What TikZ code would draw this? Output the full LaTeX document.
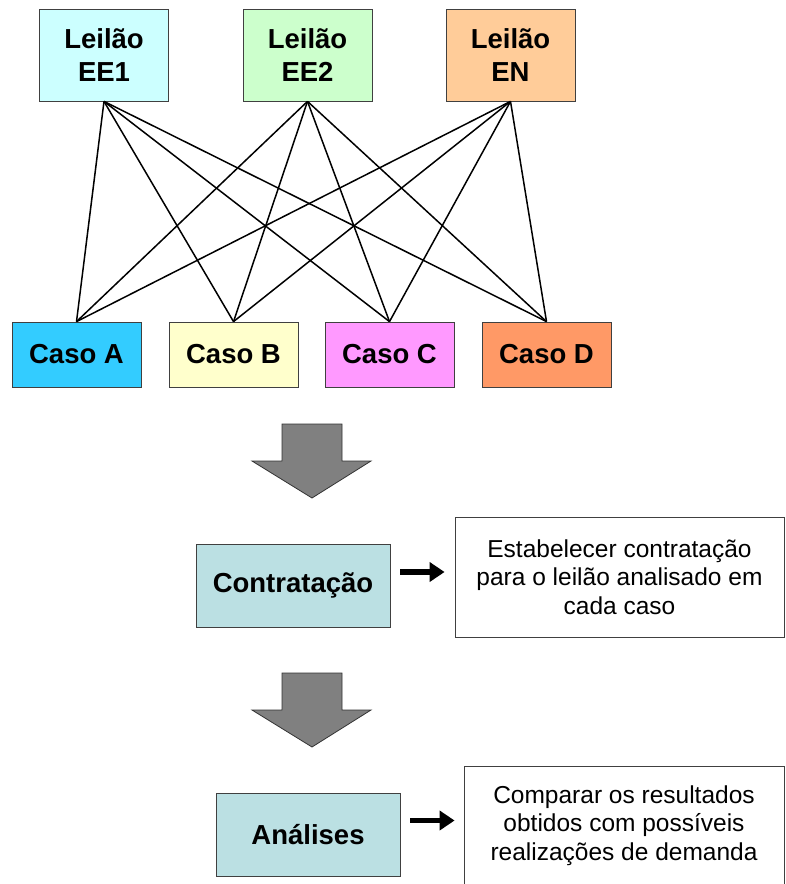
\documentclass[tikz,border=0pt]{standalone}
\usepackage{fontspec}
\setmainfont{Liberation Sans}
\usetikzlibrary{arrows.meta,calc}
\definecolor{cEEa}{HTML}{CCFFFF}
\definecolor{cEEb}{HTML}{CCFFCC}
\definecolor{cEN}{HTML}{FFCC99}
\definecolor{cA}{HTML}{33CCFF}
\definecolor{cB}{HTML}{FFFFCC}
\definecolor{cC}{HTML}{FF99FF}
\definecolor{cD}{HTML}{FF9966}
\definecolor{cStep}{HTML}{BBE0E3}
\definecolor{cGray}{HTML}{808080}
\tikzset{
  leilao/.style={draw=black!75, line width=0.8pt, minimum width=129pt, minimum height=92pt,
    inner sep=0pt, align=center, font=\fontsize{27.5}{33}\selectfont\bfseries},
  caso/.style={draw=black!75, line width=0.8pt, minimum width=129pt, minimum height=65pt,
    inner sep=0pt, align=center, font=\fontsize{27.5}{33}\selectfont\bfseries},
  stepbox/.style={draw=black!75, line width=0.8pt, fill=cStep, inner sep=0pt,
    align=center, font=\fontsize{27.5}{33}\selectfont\bfseries},
  notebox/.style={draw=black!75, line width=0.8pt, fill=white, inner sep=0pt,
    align=center, font=\fontsize{24.5}{28.5}\selectfont},
  link/.style={line width=1.5pt, black},
  fatarrow/.style={line width=5.5pt, -{Triangle[length=15pt,width=19pt]}},
  bigarrow/.style={fill=cGray, draw=black!80, line width=0.8pt},
}
\begin{document}
\begin{tikzpicture}[x=1pt,y=-1pt]
\useasboundingbox (0,0) rectangle (785,884);
% top boxes
\node[leilao, fill=cEEa] (ee1) at (104,55) {Leilão\\EE1};
\node[leilao, fill=cEEb] (ee2) at (307.5,55) {Leilão\\EE2};
\node[leilao, fill=cEN]  (en)  at (510.5,55) {Leilão\\EN};
% cases
\node[caso, fill=cA] (ca) at (76.5,354.5) {Caso A};
\node[caso, fill=cB] (cb) at (233.5,354.5) {Caso B};
\node[caso, fill=cC] (cc) at (389.5,354.5) {Caso C};
\node[caso, fill=cD] (cd) at (546.5,354.5) {Caso D};
% links
\foreach \t in {ee1,ee2,en}{
  \foreach \c in {ca,cb,cc,cd}{
    \draw[link] (\t.south) -- (\c.north);
  }
}
% big arrow 1
\coordinate (ba1) at (312,424);
\draw[bigarrow] ($(ba1)+(-30,0)$) -- ($(ba1)+(30,0)$) -- ($(ba1)+(30,37)$) -- ($(ba1)+(59,37)$)
  -- ($(ba1)+(0,74)$) -- ($(ba1)+(-60,37)$) -- ($(ba1)+(-30,37)$) -- cycle;
% step 1
\node[stepbox, minimum width=194pt, minimum height=83pt] (contr) at (293,585.5) {Contratação};
\node[notebox, minimum width=329pt, minimum height=120pt] (note1) at (619.5,577)
  {Estabelecer contratação\\para o leilão analisado em\\cada caso};
\coordinate (a1s) at ([xshift=10pt,yshift=13.5pt]contr.east);
\coordinate (a1e) at ([xshift=-10pt]a1s -| note1.west);
\draw[fatarrow] (a1s) -- (a1e);
% big arrow 2
\coordinate (ba2) at (312,673);
\draw[bigarrow] ($(ba2)+(-30,0)$) -- ($(ba2)+(30,0)$) -- ($(ba2)+(30,37)$) -- ($(ba2)+(59,37)$)
  -- ($(ba2)+(0,74)$) -- ($(ba2)+(-60,37)$) -- ($(ba2)+(-30,37)$) -- cycle;
% step 2
\node[stepbox, minimum width=184pt, minimum height=83pt] (anal) at (308,834.5) {Análises};
\node[notebox, minimum width=320pt, minimum height=118pt] (note2) at (624,825.5)
  {Comparar os resultados\\obtidos com possíveis\\realizações de demanda};
\coordinate (a2s) at ([xshift=10pt,yshift=14pt]anal.east);
\coordinate (a2e) at ([xshift=-9pt]a2s -| note2.west);
\draw[fatarrow] (a2s) -- (a2e);
\end{tikzpicture}
\end{document}
